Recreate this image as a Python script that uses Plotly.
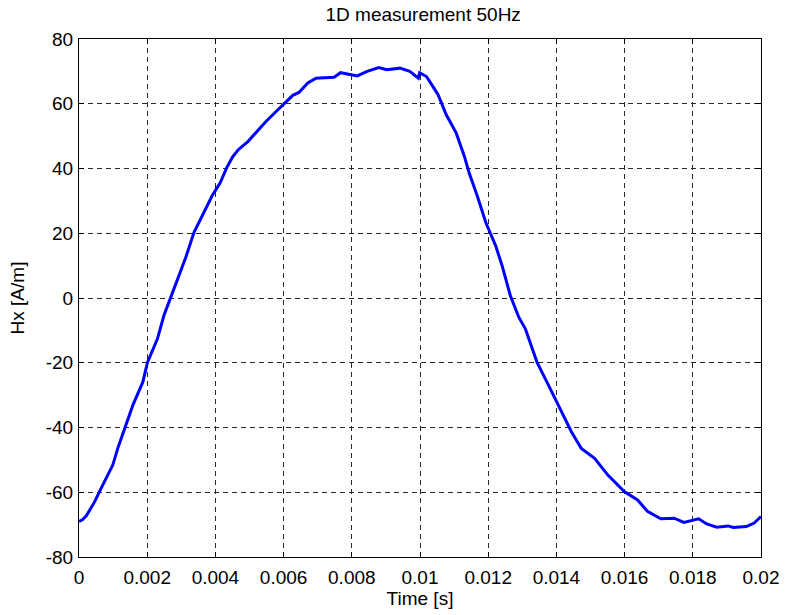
import plotly.graph_objects as go

time_s = [0.00000, 0.00010, 0.00022, 0.00035, 0.00046, 0.00060, 0.00080, 0.00099, 0.00115, 0.00134,
          0.00158, 0.00187, 0.00201, 0.00230, 0.00249, 0.00269, 0.00293, 0.00313, 0.00337, 0.00361,
          0.00390, 0.00414, 0.00433, 0.00450, 0.00467, 0.00496, 0.00525, 0.00549, 0.00578, 0.00603,
          0.00627, 0.00645, 0.00671, 0.00695, 0.00748, 0.00767, 0.00787, 0.00816, 0.00845, 0.00869,
          0.00879, 0.00903, 0.00941, 0.00970, 0.00995, 0.00999, 0.01019, 0.01038, 0.01053, 0.01077,
          0.01106, 0.01130, 0.01144, 0.01168, 0.01193, 0.01222, 0.01241, 0.01265, 0.01290, 0.01309,
          0.01343, 0.01377, 0.01415, 0.01444, 0.01473, 0.01512, 0.01551, 0.01599, 0.01638, 0.01667,
          0.01706, 0.01745, 0.01774, 0.01817, 0.01841, 0.01870, 0.01904, 0.01918, 0.01957, 0.01980,
          0.02000]
hx = [-69.0, -68.5, -67.2, -65.0, -62.9, -59.8, -55.5, -51.6, -46.0, -40.3,
      -33.1, -26.0, -19.8, -12.6, -5.4, 0.2, 6.9, 12.5, 20.2, 25.3,
      31.5, 35.6, 40.2, 43.5, 45.8, 48.4, 51.8, 54.6, 57.6, 60.2,
      62.6, 63.5, 66.4, 67.9, 68.2, 69.6, 69.2, 68.6, 70.0, 70.7,
      71.2, 70.5, 71.0, 70.0, 67.9, 69.6, 68.4, 65.3, 62.8, 56.6,
      51.0, 43.8, 38.7, 31.5, 23.3, 16.1, 9.9, 0.7, -6.0, -9.5,
      -19.8, -27.0, -35.2, -41.3, -46.5, -49.5, -54.7, -59.8, -62.4, -65.9,
      -68.2, -68.0, -69.3, -68.2, -69.8, -70.8, -70.4, -70.9, -70.6, -69.5,
      -67.5]

x_ticks = [0, 0.002, 0.004, 0.006, 0.008, 0.01, 0.012, 0.014, 0.016, 0.018, 0.02]
x_labels = ["0", "0.002", "0.004", "0.006", "0.008", "0.01", "0.012", "0.014", "0.016", "0.018", "0.02"]
y_ticks = [-80, -60, -40, -20, 0, 20, 40, 60, 80]
y_labels = [str(v) for v in y_ticks]

font_family = "Liberation Sans, Arial, sans-serif"
fs = 19

fig = go.Figure()
fig.add_trace(go.Scatter(x=time_s, y=hx, mode="lines",
                         line=dict(color="rgb(0,0,255)", width=3)))

axis_common = dict(
    showline=True, linecolor="black", linewidth=1, mirror="ticks",
    ticks="inside", ticklen=5, tickcolor="black", tickwidth=1,
    showgrid=True, gridcolor="rgb(40,40,40)", gridwidth=1, griddash="5px,4px",
    zeroline=False,
    tickfont=dict(family=font_family, size=fs, color="black"),
)

fig.update_xaxes(range=[0, 0.02], tickvals=x_ticks, ticktext=x_labels,
                 title=dict(text="Time [s]", font=dict(family=font_family, size=fs, color="black"), standoff=2),
                 ticklabelstandoff=3, **axis_common)
fig.update_yaxes(range=[-80, 80], tickvals=y_ticks, ticktext=y_labels,
                 title=dict(text="Hx [A/m]", font=dict(family=font_family, size=fs, color="black"), standoff=16),
                 ticklabelstandoff=1, **axis_common)

fig.update_layout(
    width=791, height=615,
    margin=dict(l=79, r=23, t=39, b=56),
    paper_bgcolor="white", plot_bgcolor="white",
    showlegend=False,
    title=dict(text="1D measurement 50Hz", x=0.535, xanchor="center", y=0.977, yanchor="middle",
               font=dict(family=font_family, size=fs, color="black")),
)

fig.write_html("out.html")
